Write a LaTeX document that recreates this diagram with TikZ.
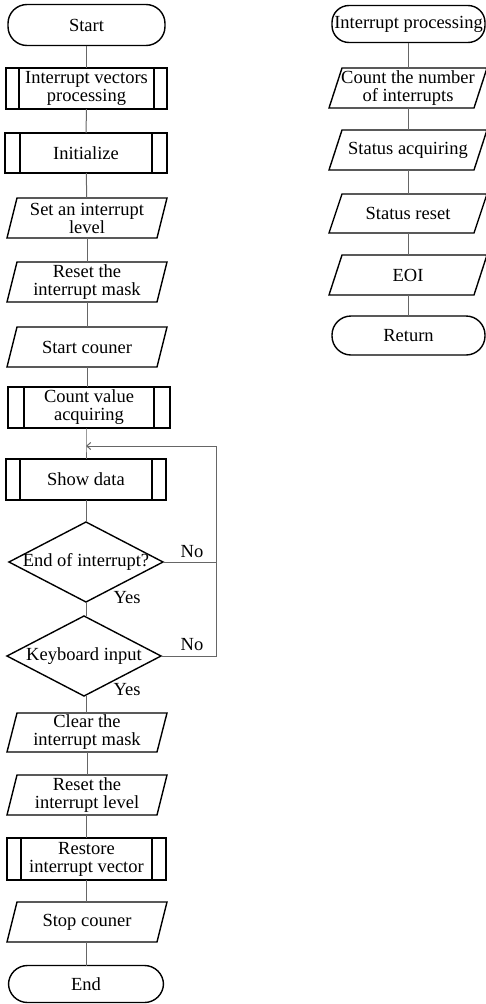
\documentclass[tikz,border=0pt]{standalone}
\usepackage{fontspec}
\setmainfont{Liberation Serif}
\usetikzlibrary{arrows.meta}

% parallelogram drawn round a named node: #1 = node, #2 = slant
\newcommand\iobox[2]{\draw[shp] ([xshift=#2pt]#1.north west) -- (#1.north east)
  -- ([xshift=-#2pt]#1.south east) -- (#1.south west) -- cycle;}
% inner bars of a predefined-process box: #1 = node, #2 = inset
\newcommand\subbars[2]{\draw[shp] ([xshift=#2pt]#1.north west) -- ([xshift=#2pt]#1.south west)
  ([xshift=-#2pt]#1.north east) -- ([xshift=-#2pt]#1.south east);}
% diamond drawn round a named node
\newcommand\decbox[1]{\draw[shp] (#1.north) -- (#1.east) -- (#1.south) -- (#1.west) -- cycle;}

\begin{document}
\begin{tikzpicture}[x=1pt,y=-1pt,
  font=\fontsize{18.5}{18}\selectfont,
  shp/.style={line width=1.4pt, draw=black},
  box/.style={inner sep=0pt, outer sep=0pt, align=center, minimum height=40pt, minimum width=160pt},
  term/.style={box, shp, rounded corners=19pt},
  proc/.style={box, shp},
  io/.style={box},
  dec/.style={inner sep=0pt, outer sep=0pt, align=center, minimum width=154pt, minimum height=80pt},
  conn/.style={draw=black!60, line width=1pt},
  lbl/.style={inner sep=0pt}]
\useasboundingbox (0,0) rectangle (486,1004);

% ---------------- main routine ----------------
\node[term, minimum width=157pt, minimum height=41pt] (start) at (86.5,25) {Start};
\node[proc, minimum width=161pt, minimum height=41pt] (ivp) at (86.5,88.5) {Interrupt vectors\\processing};
\subbars{ivp}{13}
\node[proc, minimum width=162pt] (init) at (86,153) {Initialize};
\subbars{init}{15}
\node[io] (setlvl) at (87,218) {Set an interrupt\\level};
\iobox{setlvl}{10}
\node[io] (rstmask) at (87,282) {Reset the\\interrupt mask};
\iobox{rstmask}{10}
\node[io] (startc) at (87,347) {Start couner};
\iobox{startc}{10}
\node[proc, minimum width=162pt, minimum height=41pt] (cnt) at (89,407.5) {Count value\\acquiring};
\subbars{cnt}{16}
\coordinate (join) at (86,446);
\node[proc, minimum width=160pt, minimum height=41pt] (show) at (86,479.5) {Show data};
\subbars{show}{14}
\node[dec] (eoi) at (86,562) {End of interrupt?};
\decbox{eoi}
\node[dec] (key) at (84,656) {Keyboard input};
\decbox{key}
\node[io, minimum height=39pt] (clr) at (87,732.5) {Clear the\\interrupt mask};
\iobox{clr}{10}
\node[io] (rstlvl) at (87,795) {Reset the\\interrupt level};
\iobox{rstlvl}{10}
\node[proc, minimum width=159pt, minimum height=42pt] (restore) at (86.5,859) {Restore\\interrupt vector};
\subbars{restore}{14}
\node[io] (stopc) at (87,922) {Stop couner};
\iobox{stopc}{10}
\node[term, minimum width=155pt, minimum height=37pt] (end) at (86,984) {End};

% loop-back route
\coordinate (eoiR) at (216,562);
\coordinate (keyR) at (216,656);
\coordinate (topR) at (216,446);

\draw[conn] (start) -- (ivp);
\draw[conn] (ivp) -- (init);
\draw[conn] (init) -- (setlvl);
\draw[conn] (setlvl) -- (rstmask);
\draw[conn] (rstmask) -- (startc);
\draw[conn] (startc.south) -- (startc.south |- cnt.north);
\draw[conn] (cnt.south -| join) -- (join) -- (join |- show.north);
\draw[conn] (show.south -| eoi.north) -- (eoi.north);
\draw[conn] (eoi.south) -- (key.north -| eoi.south);
\draw[conn] (key.south -| eoi.south) -- (clr.north -| eoi.south);
\draw[conn] (clr) -- (rstlvl);
\draw[conn] (rstlvl.south -| restore) -- (restore.north);
\draw[conn] (restore.south) -- (stopc.north -| restore.south);
\draw[conn] (stopc.south -| end) -- (end.north);

\draw[conn, -{Straight Barb[length=4pt, width=7pt]}] (eoi.east) -- (eoiR) -- (topR) -- (join);
\draw[conn] (key.east) -- (keyR) -- (eoiR);

\node[lbl] at (192,552) {No};
\node[lbl] at (127,598) {Yes};
\node[lbl] at (192,645) {No};
\node[lbl] at (127,690) {Yes};

% ---------------- interrupt handler ----------------
\node[term, minimum width=153pt, minimum height=37pt, rounded corners=17pt] (ip) at (408.5,24) {Interrupt processing};
\node[io, minimum width=158pt] (cntint) at (408,88) {Count the number\\of interrupts};
\iobox{cntint}{13}
\node[io, minimum width=158pt] (stacq) at (408,150) {Status acquiring};
\iobox{stacq}{13}
\node[io, minimum width=158pt, minimum height=39pt] (strst) at (408,213.5) {Status reset};
\iobox{strst}{13}
\node[io, minimum width=158pt] (eoicmd) at (408,275) {EOI};
\iobox{eoicmd}{13}
\node[term, minimum width=153pt, minimum height=39pt] (ret) at (408.5,335.5) {Return};

\draw[conn] (ip.south -| cntint) -- (cntint.north);
\draw[conn] (cntint) -- (stacq);
\draw[conn] (stacq) -- (strst);
\draw[conn] (strst) -- (eoicmd);
\draw[conn] (eoicmd.south) -- (ret.north -| eoicmd.south);
\end{tikzpicture}
\end{document}
